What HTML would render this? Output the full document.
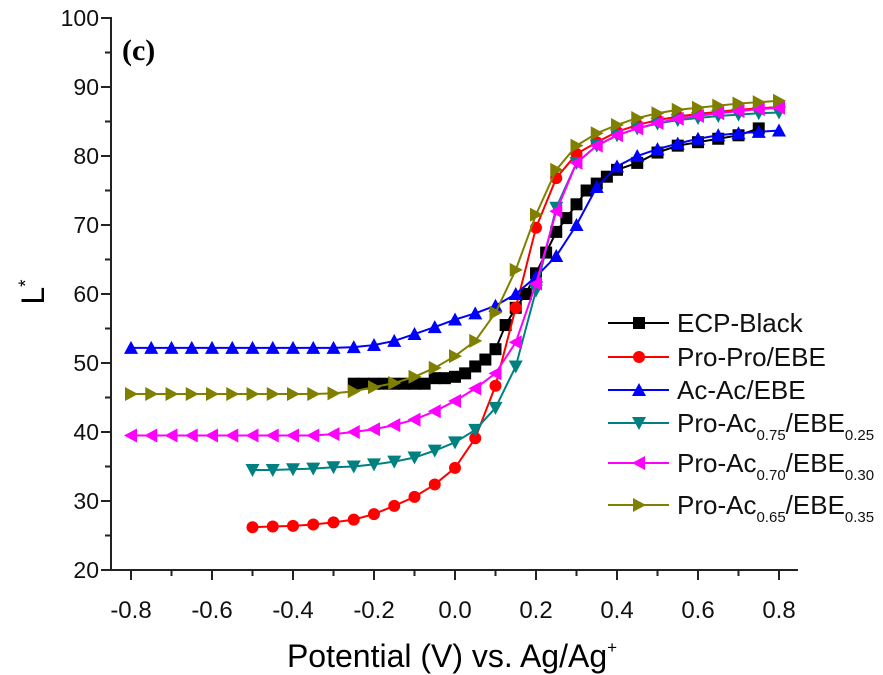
<!DOCTYPE html>
<html><head><meta charset="utf-8">
<style>
html,body{margin:0;padding:0;background:#fff;}
svg{display:block;font-family:"Liberation Sans",Arial,sans-serif;}
</style></head>
<body>
<svg id="chart" width="883" height="675" viewBox="0 0 883 675" xmlns="http://www.w3.org/2000/svg">
  <g id="axes"></g>
  <g id="series"></g>
  <text x="122" y="60" font-family="Liberation Serif,serif" font-weight="bold" font-size="30">(c)</text>
  <text transform="translate(44,292) rotate(-90)" text-anchor="middle" font-size="32">L<tspan dy="-12" font-size="19">*</tspan></text>
  <text x="452" y="667" text-anchor="middle" font-size="32">Potential (V) vs. Ag/Ag<tspan dy="-14" font-size="17">+</tspan></text>
  <g id="legend"></g>
</svg>
<script>
const xTicks = [-0.8,-0.6,-0.4,-0.2,0.0,0.2,0.4,0.6,0.8];
const xTickLabels = ["-0.8","-0.6","-0.4","-0.2","0.0","0.2","0.4","0.6","0.8"];
const yTicks = [20,30,40,50,60,70,80,90,100];
const seriesNames = ["ECP-Black","Pro-Pro/EBE","Ac-Ac/EBE","Pro-Ac0.75/EBE0.25","Pro-Ac0.70/EBE0.30","Pro-Ac0.65/EBE0.35"];
const blackX = [-0.25,-0.225,-0.2,-0.175,-0.15,-0.125,-0.1,-0.075,-0.05,-0.025,0,0.025,0.05,0.075,0.1,0.125,0.15,0.175,0.2,0.225,0.25,0.275,0.3,0.325,0.35,0.375,0.4,0.45,0.5,0.55,0.6,0.65,0.7,0.75];
const blackY = [47,47,47,47,47,47,47,47,47.8,47.8,48,48.5,49.5,50.5,52,55.5,58,60,63,66,69,71,73,75,76,77,78,79,80.5,81.5,82,82.5,83,84];
const redY = [26.2,26.3,26.4,26.6,26.9,27.3,28.1,29.3,30.6,32.4,34.8,39.1,46.7,58,69.6,76.8,80.3,82,83.5,84.5,85.2,85.7,86.1,86.4,86.7,86.9,87.1];
const blueY = [52.2,52.2,52.2,52.2,52.2,52.2,52.2,52.2,52.2,52.2,52.2,52.3,52.6,53.2,54.2,55.2,56.3,57.2,58.3,60,62.5,65.5,70,75.5,78.5,80,81,81.8,82.5,83,83.3,83.5,83.7];
const tealY = [34.5,34.5,34.6,34.7,34.9,35.0,35.3,35.7,36.3,37.3,38.5,40.3,43.5,49.5,60.5,72.5,79,81.5,83,84,84.7,85.2,85.5,85.8,86,86.2,86.3];
const magentaY = [39.5,39.5,39.5,39.5,39.5,39.5,39.5,39.5,39.5,39.5,39.7,40,40.4,41,41.8,43,44.5,46.3,48.5,53,61.5,72,79,81.5,83,84,84.8,85.4,85.8,86.2,86.5,86.8,87];
const oliveY = [45.5,45.5,45.5,45.5,45.5,45.5,45.5,45.5,45.5,45.5,45.6,45.9,46.5,47.1,48,49.3,51,53.2,57.3,63.5,71.5,78,81.5,83.3,84.5,85.5,86.2,86.7,87,87.3,87.6,87.8,88];

const NS="http://www.w3.org/2000/svg";
const X0=111, Y0=570, XR=798, YT=17;
function sx(v){return 455+v*405;}
function sy(v){return 570-(v-20)*6.9;}
function mk(tag,attrs,parent){const e=document.createElementNS(NS,tag);for(const k in attrs)e.setAttribute(k,attrs[k]);parent.appendChild(e);return e;}
function range(a,n){const r=[];for(let i=0;i<n;i++)r.push(Math.round((a+i*0.05)*1000)/1000);return r;}

const axes=document.getElementById('axes');
let ax=mk('line',{x1:X0,y1:YT,x2:X0,y2:Y0+1,stroke:'#222','stroke-width':2},axes);


ax=mk('line',{x1:X0-1,y1:Y0,x2:XR,y2:Y0,stroke:'#222','stroke-width':2},axes);


for(let i=0;i<yTicks.length;i++){
  const y=sy(yTicks[i]);
  mk('line',{x1:X0-10,y1:y,x2:X0,y2:y,stroke:'#222','stroke-width':2},axes);
  if(i<yTicks.length-1){const ym=sy(yTicks[i]+5);mk('line',{x1:X0-6,y1:ym,x2:X0,y2:ym,stroke:'#222','stroke-width':2},axes);}
  const t=mk('text',{x:X0-12,y:y+8,'text-anchor':'end','font-size':23,fill:'#111'},axes);
  t.textContent=yTicks[i];
  
  
}
for(let i=0;i<xTicks.length;i++){
  const x=sx(xTicks[i]);
  mk('line',{x1:x,y1:Y0,x2:x,y2:Y0+10,stroke:'#222','stroke-width':2},axes);
  if(i<xTicks.length-1){const xm=sx(xTicks[i]+0.1);mk('line',{x1:xm,y1:Y0,x2:xm,y2:Y0+6,stroke:'#222','stroke-width':2},axes);}
  const t=mk('text',{x:x,y:Y0+48,'text-anchor':'middle','font-size':24,fill:'#111'},axes);
  t.textContent=xTickLabels[i];
  
  
}

function marker(type,x,y,color,parent){
  const s=6;
  if(type==='square') return mk('rect',{x:x-s,y:y-s,width:2*s,height:2*s,fill:color},parent);
  if(type==='circle') return mk('circle',{cx:x,cy:y,r:s,fill:color},parent);
  let pts;
  if(type==='up') pts=[[x,y-s-1],[x+s+1,y+s],[x-s-1,y+s]];
  if(type==='down') pts=[[x,y+s+1],[x+s+1,y-s],[x-s-1,y-s]];
  if(type==='left') pts=[[x-s-1,y],[x+s,y-s-1],[x+s,y+s+1]];
  if(type==='right') pts=[[x+s+1,y],[x-s,y-s-1],[x-s,y+s+1]];
  return mk('polygon',{points:pts.map(p=>p.join(',')).join(' '),fill:color},parent);
}
const defs=[
 {name:'ecp-black',xs:blackX,ys:blackY,color:'#000000',m:'square'},
 {name:'pro-pro-ebe',xs:range(-0.5,27),ys:redY,color:'#ff0000',m:'circle'},
 {name:'ac-ac-ebe',xs:range(-0.8,33),ys:blueY,color:'#0000ff',m:'up'},
 {name:'pro-ac075',xs:range(-0.5,27),ys:tealY,color:'#008080',m:'down'},
 {name:'pro-ac070',xs:range(-0.8,33),ys:magentaY,color:'#ff00ff',m:'left'},
 {name:'pro-ac065',xs:range(-0.8,33),ys:oliveY,color:'#808000',m:'right'}
];
const sg=document.getElementById('series');
defs.forEach(d=>{
  const g=mk('g',{},sg);
  
  
  const pts=d.xs.map((x,i)=>sx(x)+','+sy(d.ys[i])).join(' ');
  const pl=mk('polyline',{points:pts,fill:'none',stroke:d.color,'stroke-width':2},g);
  
  
  d.xs.forEach((x,i)=>{
    const m=marker(d.m,sx(x),sy(d.ys[i]),d.color,g);
    
    
  });
});

const lg=document.getElementById('legend');
const rowsY=[323,357,390,423,463,505];
const labelParts=[["ECP-Black"],["Pro-Pro/EBE"],["Ac-Ac/EBE"],["Pro-Ac","0.75","/EBE","0.25"],["Pro-Ac","0.70","/EBE","0.30"],["Pro-Ac","0.65","/EBE","0.35"]];
defs.forEach((d,i)=>{
  const g=mk('g',{},lg);
  
  
  const y=rowsY[i];
  mk('line',{x1:608,y1:y,x2:669,y2:y,stroke:d.color,'stroke-width':2},g);
  marker(d.m,639,y,d.color,g);
  const t=mk('text',{x:677,y:y+9,'font-size':26,fill:'#111'},g);
  const p=labelParts[i];
  p.forEach((s,j)=>{
    const ts=mk('tspan',{},t);
    if(j%2===1){ts.setAttribute('font-size','15');ts.setAttribute('dy','8');}
    else if(j>0){ts.setAttribute('dy','-8');}
    ts.textContent=s;
  });
});
</script>
</body></html>
